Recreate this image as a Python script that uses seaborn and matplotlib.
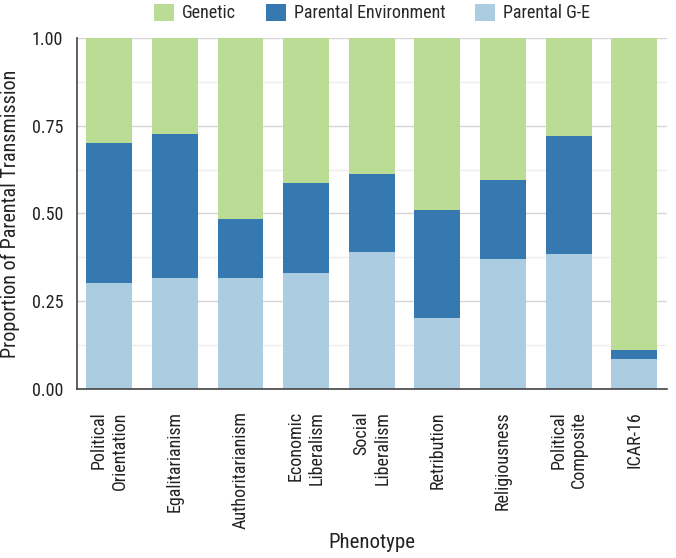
import matplotlib.pyplot as plt
import seaborn as sns
import pandas as pd
import numpy as np
from matplotlib.ticker import MultipleLocator, FormatStrFormatter
from matplotlib.patches import Patch

phenotypes = ['Political\nOrientation', 'Egalitarianism', 'Authoritarianism',
              'Economic\nLiberalism', 'Social\nLiberalism', 'Retribution',
              'Religiousness', 'Political\nComposite', 'ICAR-16']
parental_ge = [0.303, 0.315, 0.315, 0.329, 0.390, 0.202, 0.371, 0.383, 0.085]
parental_env = [0.398, 0.410, 0.168, 0.259, 0.222, 0.308, 0.223, 0.337, 0.026]
genetic = [0.299, 0.275, 0.517, 0.412, 0.388, 0.490, 0.406, 0.280, 0.889]

components = ['Genetic', 'Parental Environment', 'Parental G-E']
colors = {'Genetic': '#bbdc94', 'Parental Environment': '#3679b0', 'Parental G-E': '#abcce1'}

sns.set_style('white')
plt.rcParams['font.family'] = ['Roboto Condensed', 'DejaVu Sans']

df = pd.DataFrame({'phenotype': phenotypes, 'Parental G-E': parental_ge,
                   'Parental Environment': parental_env, 'Genetic': genetic})
# cumulative tops of each layer
df['top_ge'] = df['Parental G-E']
df['top_env'] = df['top_ge'] + df['Parental Environment']
df['top_gen'] = df['top_env'] + df['Genetic']

fig = plt.figure(figsize=(6.76, 5.58), dpi=100)
ax = fig.add_axes([0.114, 0.303, 0.873, 0.629])

for col, comp in [('top_gen', 'Genetic'), ('top_env', 'Parental Environment'), ('top_ge', 'Parental G-E')]:
    sns.barplot(data=df, x='phenotype', y=col, color=colors[comp], saturation=1,
                width=0.7, linewidth=0, ax=ax, zorder=2)

ax.set_xlim(-0.49, 8.5)
ax.set_ylim(0, 1)
ax.yaxis.set_major_locator(MultipleLocator(0.25))
ax.yaxis.set_minor_locator(MultipleLocator(0.125))
ax.yaxis.set_major_formatter(FormatStrFormatter('%.2f'))
ax.grid(which='major', axis='y', color='#d6d6d6', linewidth=1, zorder=0)
ax.grid(which='minor', axis='y', color='#ededed', linewidth=1, zorder=0)
ax.set_axisbelow(True)

for s in ['top', 'right']:
    ax.spines[s].set_visible(False)
for s in ['left', 'bottom']:
    ax.spines[s].set_color('#444444')
    ax.spines[s].set_linewidth(1.2)

ax.tick_params(axis='y', which='major', length=5, width=1, color='#cccccc', pad=5,
               labelsize=13, labelcolor='#222222')
ax.tick_params(axis='y', which='minor', length=0)
ax.tick_params(axis='x', length=10, width=1, color='#444444', pad=6, labelsize=13, labelcolor='#222222')
for lab in ax.get_xticklabels():
    lab.set_rotation(90)
    lab.set_va('top')
    lab.set_ha('center')
    lab.set_multialignment('right')

ax.set_xlabel('Phenotype', fontsize=15, color='#222222')
ax.set_ylabel('Proportion of Parental Transmission', fontsize=14.5, color='#222222')
ax.xaxis.set_label_coords(0.5, -0.41)
ax.yaxis.set_label_coords(-0.097, 0.5)

handles = [Patch(facecolor=colors[c], edgecolor='none') for c in components]
fig.legend(handles, components, loc='center', bbox_to_anchor=(372 / 676, 1 - 13 / 558),
           ncol=3, frameon=False, fontsize=13, handlelength=1.1, handleheight=1.1,
           handletextpad=0.45, columnspacing=1.65)

plt.savefig('out.png', dpi=100)
